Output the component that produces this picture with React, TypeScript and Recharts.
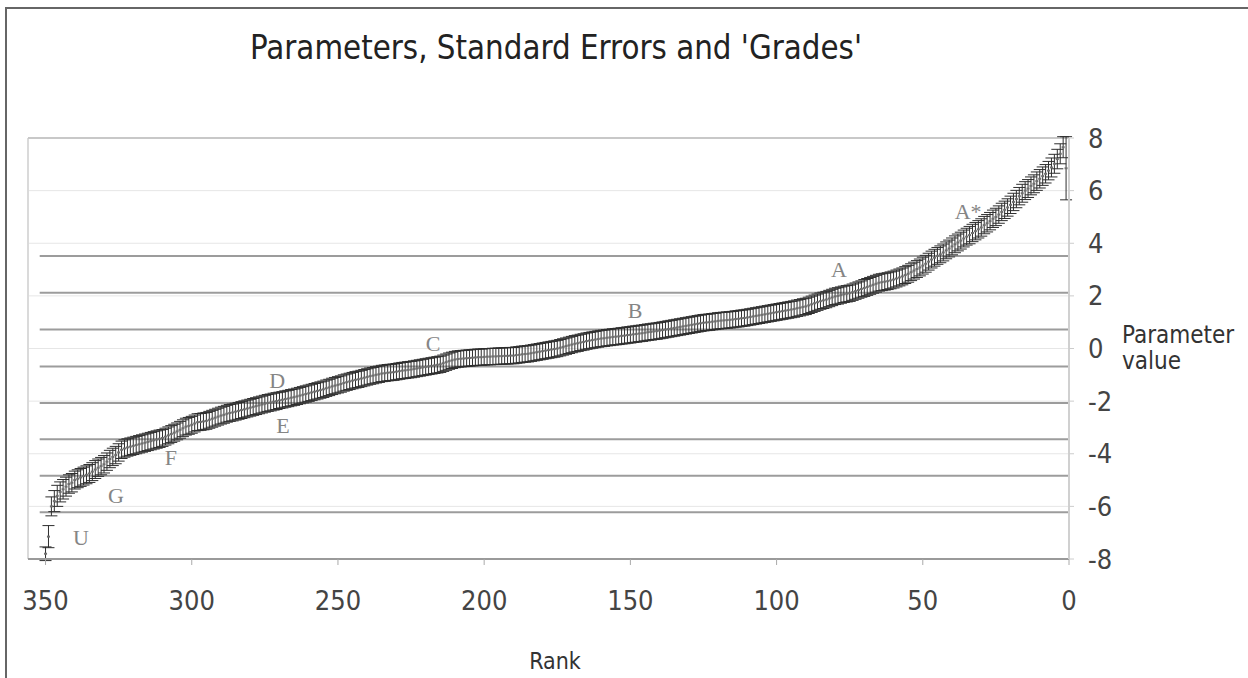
import React from 'react';
import {
    ScatterChart, Scatter, XAxis, YAxis, CartesianGrid,
    ReferenceLine, ErrorBar,
} from 'recharts';

// parameter value by rank (rank 1 .. 350)
const RANK_VALUES = [
    6.85, 7.65, 7.4, 7.2, 7.02, 6.88, 6.76, 6.64, 6.55, 6.45,
    6.36, 6.26, 6.18, 6.08, 6.0, 5.9, 5.79, 5.68, 5.57, 5.46,
    5.36, 5.27, 5.19, 5.09, 5.0, 4.93, 4.84, 4.76, 4.69, 4.6,
    4.53, 4.46, 4.39, 4.31, 4.25, 4.18, 4.1, 4.03, 3.96, 3.88,
    3.8, 3.73, 3.65, 3.58, 3.52, 3.45, 3.38, 3.3, 3.22, 3.15,
    3.08, 3.02, 2.96, 2.9, 2.84, 2.79, 2.74, 2.7, 2.66, 2.62,
    2.59, 2.56, 2.54, 2.52, 2.5, 2.46, 2.42, 2.38, 2.34, 2.3,
    2.26, 2.22, 2.18, 2.14, 2.1, 2.08, 2.06, 2.03, 2.0, 1.98,
    1.94, 1.9, 1.86, 1.83, 1.8, 1.76, 1.72, 1.68, 1.64, 1.6,
    1.58, 1.55, 1.53, 1.5, 1.48, 1.46, 1.44, 1.42, 1.4, 1.38,
    1.36, 1.34, 1.32, 1.3, 1.28, 1.26, 1.24, 1.22, 1.2, 1.18,
    1.16, 1.15, 1.13, 1.12, 1.1, 1.09, 1.08, 1.07, 1.06, 1.05,
    1.03, 1.02, 1.0, 0.99, 0.98, 0.96, 0.94, 0.92, 0.9, 0.88,
    0.86, 0.84, 0.82, 0.8, 0.78, 0.76, 0.74, 0.72, 0.7, 0.68,
    0.66, 0.65, 0.63, 0.62, 0.6, 0.58, 0.57, 0.55, 0.54, 0.52,
    0.51, 0.49, 0.48, 0.46, 0.45, 0.44, 0.42, 0.41, 0.39, 0.38,
    0.36, 0.34, 0.32, 0.3, 0.28, 0.25, 0.23, 0.2, 0.18, 0.15,
    0.12, 0.09, 0.06, 0.03, 0.0, -0.02, -0.04, -0.06, -0.08, -0.1,
    -0.12, -0.14, -0.16, -0.18, -0.2, -0.21, -0.22, -0.24, -0.25, -0.27,
    -0.27, -0.28, -0.28, -0.29, -0.29, -0.3, -0.3, -0.31, -0.31, -0.32,
    -0.33, -0.33, -0.34, -0.35, -0.36, -0.37, -0.38, -0.39, -0.4, -0.42,
    -0.45, -0.48, -0.52, -0.56, -0.6, -0.62, -0.64, -0.66, -0.68, -0.7,
    -0.72, -0.74, -0.76, -0.78, -0.8, -0.81, -0.83, -0.84, -0.86, -0.88,
    -0.9, -0.91, -0.92, -0.94, -0.95, -0.98, -1.0, -1.03, -1.05, -1.08,
    -1.11, -1.14, -1.17, -1.19, -1.22, -1.25, -1.28, -1.31, -1.35, -1.38,
    -1.41, -1.44, -1.48, -1.51, -1.55, -1.58, -1.61, -1.64, -1.67, -1.7,
    -1.73, -1.76, -1.79, -1.82, -1.85, -1.87, -1.9, -1.92, -1.95, -1.97,
    -2.0, -2.02, -2.05, -2.07, -2.1, -2.13, -2.16, -2.19, -2.22, -2.25,
    -2.28, -2.31, -2.34, -2.37, -2.4, -2.43, -2.45, -2.48, -2.52, -2.55,
    -2.59, -2.63, -2.67, -2.71, -2.75, -2.77, -2.79, -2.8, -2.85, -2.9,
    -2.94, -2.97, -3.03, -3.09, -3.15, -3.2, -3.25, -3.3, -3.35, -3.4,
    -3.43, -3.46, -3.49, -3.52, -3.55, -3.58, -3.61, -3.64, -3.67, -3.7,
    -3.73, -3.76, -3.8, -3.85, -3.95, -4.05, -4.12, -4.2, -4.3, -4.4,
    -4.47, -4.53, -4.6, -4.68, -4.75, -4.8, -4.85, -4.9, -4.95, -5.0,
    -5.1, -5.15, -5.25, -5.35, -5.45, -5.6, -5.8, -6.0, -7.15, -7.8,
];

// standard error for each rank
const STD_ERRORS = [
    1.2, 0.4, 0.38, 0.37, 0.36, 0.36, 0.35, 0.35, 0.35, 0.35,
    0.35, 0.34, 0.34, 0.34, 0.34, 0.34, 0.33, 0.33, 0.33, 0.33,
    0.33, 0.33, 0.33, 0.33, 0.33, 0.33, 0.33, 0.33, 0.33, 0.33,
    0.33, 0.33, 0.33, 0.33, 0.32, 0.32, 0.32, 0.32, 0.32, 0.32,
    0.32, 0.32, 0.32, 0.32, 0.32, 0.32, 0.32, 0.32, 0.32, 0.32,
    0.32, 0.32, 0.32, 0.32, 0.32, 0.32, 0.32, 0.32, 0.32, 0.32,
    0.32, 0.32, 0.32, 0.32, 0.32, 0.32, 0.32, 0.32, 0.32, 0.32,
    0.31, 0.31, 0.31, 0.31, 0.31, 0.31, 0.31, 0.31, 0.31, 0.31,
    0.31, 0.31, 0.31, 0.31, 0.31, 0.31, 0.31, 0.31, 0.31, 0.31,
    0.31, 0.31, 0.31, 0.31, 0.31, 0.31, 0.31, 0.31, 0.31, 0.31,
    0.31, 0.31, 0.31, 0.31, 0.31, 0.31, 0.31, 0.31, 0.31, 0.31,
    0.31, 0.31, 0.31, 0.31, 0.31, 0.31, 0.31, 0.31, 0.31, 0.31,
    0.31, 0.31, 0.31, 0.31, 0.31, 0.31, 0.31, 0.31, 0.31, 0.31,
    0.31, 0.31, 0.31, 0.31, 0.31, 0.31, 0.31, 0.31, 0.31, 0.31,
    0.31, 0.31, 0.31, 0.31, 0.31, 0.31, 0.31, 0.31, 0.31, 0.31,
    0.31, 0.31, 0.31, 0.31, 0.31, 0.31, 0.31, 0.31, 0.31, 0.31,
    0.31, 0.31, 0.31, 0.31, 0.31, 0.31, 0.31, 0.31, 0.31, 0.31,
    0.31, 0.31, 0.31, 0.31, 0.31, 0.31, 0.31, 0.31, 0.31, 0.31,
    0.31, 0.31, 0.31, 0.31, 0.31, 0.31, 0.31, 0.31, 0.31, 0.31,
    0.31, 0.31, 0.31, 0.31, 0.31, 0.31, 0.31, 0.31, 0.31, 0.31,
    0.31, 0.31, 0.31, 0.31, 0.31, 0.31, 0.31, 0.31, 0.31, 0.31,
    0.31, 0.31, 0.31, 0.31, 0.31, 0.31, 0.31, 0.31, 0.31, 0.31,
    0.31, 0.31, 0.31, 0.31, 0.31, 0.31, 0.31, 0.31, 0.31, 0.31,
    0.31, 0.31, 0.31, 0.31, 0.31, 0.31, 0.31, 0.31, 0.31, 0.31,
    0.31, 0.31, 0.31, 0.31, 0.31, 0.31, 0.31, 0.31, 0.31, 0.31,
    0.31, 0.31, 0.31, 0.31, 0.31, 0.31, 0.31, 0.31, 0.31, 0.31,
    0.31, 0.31, 0.31, 0.31, 0.31, 0.31, 0.31, 0.31, 0.31, 0.31,
    0.32, 0.32, 0.32, 0.32, 0.32, 0.32, 0.32, 0.32, 0.32, 0.32,
    0.32, 0.32, 0.32, 0.32, 0.32, 0.32, 0.32, 0.32, 0.32, 0.32,
    0.32, 0.32, 0.32, 0.32, 0.32, 0.32, 0.32, 0.32, 0.32, 0.32,
    0.32, 0.32, 0.32, 0.32, 0.32, 0.32, 0.32, 0.32, 0.32, 0.32,
    0.33, 0.33, 0.33, 0.33, 0.33, 0.33, 0.33, 0.33, 0.33, 0.33,
    0.33, 0.33, 0.33, 0.33, 0.33, 0.33, 0.33, 0.33, 0.33, 0.33,
    0.33, 0.33, 0.34, 0.34, 0.34, 0.34, 0.34, 0.34, 0.34, 0.34,
    0.35, 0.35, 0.36, 0.37, 0.38, 0.4, 0.4, 0.36, 0.42, 0.26,
];

// grade boundaries (dark horizontal lines)
const GRADE_BOUNDARIES = [3.52, 2.12, 0.72, -0.68, -2.07, -3.45, -4.84, -6.22];

// grade letters with their place in the chart
const GRADE_NAMES = ['U', 'G', 'F', 'E', 'D', 'C', 'B', 'A', 'A*'];
const GRADE_RANKS = [337.9, 325.9, 307.1, 268.8, 270.8, 217.5, 148.4, 78.7, 34.5];
const GRADE_LEVELS = [-7.2, -5.6, -4.15, -2.93, -1.22, 0.19, 1.45, 3.01, 5.22];

const X_TICKS = [0, 50, 100, 150, 200, 250, 300, 350];
const Y_TICKS = [-8, -6, -4, -2, 0, 2, 4, 6, 8];

const points = RANK_VALUES.map((value, i) => ({
    rank: i + 1,
    value,
    se: STD_ERRORS[i],
}));

const gradeLabels = GRADE_NAMES.map((name, i) => ({
    name,
    rank: GRADE_RANKS[i],
    value: GRADE_LEVELS[i],
}));

const FONT = '"Liberation Sans Narrow", "DejaVu Sans Condensed", "Liberation Sans", sans-serif';

const PointMark = (props: any) => {
    const { cx, cy } = props;
    if (cx == null || cy == null) return null;
    return <rect x={cx - 1.5} y={cy - 1} width={3} height={2} fill="#6e6e6e" />;
};

const GradeMark = (props: any) => {
    const { cx, cy, payload } = props;
    if (cx == null || cy == null) return null;
    return (
        <text
            x={cx}
            y={cy}
            textAnchor="middle"
            dominantBaseline="central"
            fontFamily='"Liberation Serif", "Times New Roman", serif'
            fontSize={22}
            fill="#858585"
        >
            {payload.name}
        </text>
    );
};

export default function App() {
    return (
        <div style={{ position: 'absolute', left: 0, top: 0, width: 1248, height: 678, background: '#fff', overflow: 'hidden' }}>
            <div style={{
                position: 'absolute', left: 5, top: 7, width: 1300, height: 700,
                borderLeft: '2px solid #666', borderTop: '2px solid #666',
            }} />
            <ScatterChart
                width={1248}
                height={678}
                margin={{ top: 138, right: 119, bottom: 79, left: 28 }}
                style={{ position: 'absolute', left: 0, top: 0 }}
            >
                <text
                    x={556}
                    y={59}
                    textAnchor="middle"
                    fontFamily={FONT}
                    fontSize={33}
                    fill="#222"
                    textLength={612}
                    lengthAdjust="spacingAndGlyphs"
                >
                    Parameters, Standard Errors and 'Grades'
                </text>
                <text x={1122} y={343} fontFamily={FONT} fontSize={24} fill="#333">Parameter</text>
                <text x={1122} y={369} fontFamily={FONT} fontSize={24} fill="#333">value</text>
                <text x={555} y={669} textAnchor="middle" fontFamily={FONT} fontSize={23} fill="#333">Rank</text>

                <CartesianGrid horizontal vertical={false} stroke="#e6e6e6" strokeWidth={1} />
                <XAxis
                    type="number"
                    dataKey="rank"
                    domain={[0, 356]}
                    reversed
                    allowDataOverflow
                    ticks={X_TICKS}
                    height={40}
                    tickSize={6}
                    tickMargin={26}
                    axisLine={{ stroke: '#9a9a9a', strokeWidth: 2 }}
                    tickLine={{ stroke: '#aaa' }}
                    tick={{ fontSize: 27, fill: '#444', fontFamily: FONT }}
                />
                <YAxis
                    type="number"
                    dataKey="value"
                    orientation="right"
                    domain={[-8, 8]}
                    allowDataOverflow
                    ticks={Y_TICKS}
                    width={60}
                    tickSize={5}
                    tickMargin={14}
                    axisLine={{ stroke: '#d0d0d0', strokeWidth: 2 }}
                    tickLine={{ stroke: '#ccc' }}
                    tick={{ fontSize: 27, fill: '#444', fontFamily: FONT }}
                />
                <ReferenceLine x={356} stroke="#dadada" strokeWidth={2} />
                <ReferenceLine y={8} stroke="#c8c8c8" strokeWidth={2} />
                {GRADE_BOUNDARIES.map((b) => (
                    <ReferenceLine
                        key={b}
                        segment={[{ x: 352, y: b }, { x: 0, y: b }]}
                        stroke="#9c9c9c"
                        strokeWidth={2}
                    />
                ))}
                <Scatter data={points} shape={PointMark} isAnimationActive={false}>
                    <ErrorBar dataKey="se" direction="y" width={6} stroke="#2e2e2e" strokeWidth={1} />
                </Scatter>
                <Scatter data={gradeLabels} shape={GradeMark} isAnimationActive={false} />
            </ScatterChart>
        </div>
    );
}
